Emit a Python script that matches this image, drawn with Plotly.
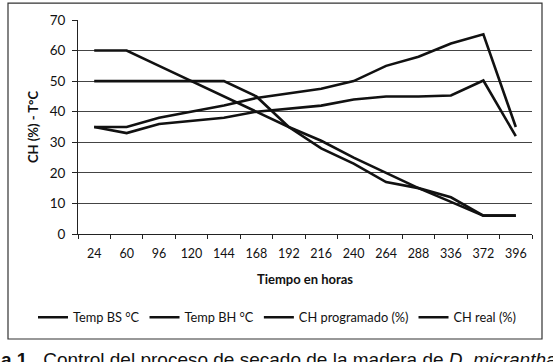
import plotly.graph_objects as go

horas = ["24", "60", "96", "120", "144", "168", "192", "216", "240", "264", "288", "336", "372", "396"]
temp_bs = [35, 35, 38, 40, 42, 44.5, 46, 47.5, 50, 55, 58, 62.3, 65.3, 35]
temp_bh = [35, 33, 36, 37, 38, 40, 41, 42, 44, 45, 45, 45.3, 50.2, 32]
ch_programado = [50, 50, 50, 50, 50, 45, 35, 28, 23, 17, 15, 12, 6, 6]
ch_real = [60, 60, 55, 50, 45, 40, 35, 30.5, 25, 20, 15, 10.5, 6, 6]

series = [
    ("Temp BS °C", temp_bs),
    ("Temp BH °C", temp_bh),
    ("CH programado (%)", ch_programado),
    ("CH real (%)", ch_real),
]

FONT = "Lato"
fig = go.Figure()
for name, vals in series:
    fig.add_trace(go.Scatter(
        x=horas, y=vals, name=name, mode="lines",
        line=dict(color="#111111", width=2.6),
    ))

fig.update_layout(
    width=553, height=362,
    margin=dict(l=78, r=21, t=18, b=128),
    paper_bgcolor="white", plot_bgcolor="white",
    font=dict(family=FONT, size=12, color="#111111"),
    showlegend=True,
    legend=dict(
        orientation="h", x=(33 - 78) / 454, xanchor="left", y=-0.39, yanchor="middle",
        font=dict(family=FONT, size=12.8, color="#111111"),
        itemwidth=30, tracegroupgap=0, bgcolor="rgba(0,0,0,0)",
    ),
    xaxis=dict(
        type="category", showgrid=False, showline=True, linecolor="#222222", linewidth=1,
        ticks="outside", ticklen=4, tickcolor="#222222", tickson="boundaries",
        ticklabelstandoff=8,
        tickfont=dict(family=FONT, size=12.5, color="#111111"),
        title=dict(text="<b>Tiempo en horas</b>", font=dict(family=FONT, size=13, color="#111111"), standoff=14),
        range=[-0.5, 13.5],
    ),
    yaxis=dict(
        range=[0, 70], dtick=10, showgrid=True, gridcolor="#444444", gridwidth=1,
        showline=True, linecolor="#222222", linewidth=1, zeroline=False,
        ticks="outside", ticklen=5, tickcolor="#222222", ticklabelstandoff=4,
        tickfont=dict(family=FONT, size=13.5, color="#111111"),
        title=dict(text="<b>CH (%) - T°C</b>", font=dict(family=FONT, size=13, color="#111111"), standoff=8),
    ),
    shapes=[dict(
        type="rect", xref="paper", yref="paper",
        x0=(8 - 78) / 454, x1=(542 - 78) / 454,
        y0=(234 - 340) / 216, y1=(234 - 1) / 216,
        line=dict(color="#333333", width=1.2), fillcolor="rgba(0,0,0,0)", layer="below",
    )],
    annotations=[dict(
        xref="paper", yref="paper", x=(-1 - 78) / 454, y=(234 - 348) / 216,
        xanchor="left", yanchor="top", showarrow=False,
        text="<b>a 1.</b>  Control del proceso de secado de la madera de <i>D. micrantha</i>",
        font=dict(family="Liberation Sans", size=19, color="#111111"),
    )],
)

fig.write_html("out.html")
